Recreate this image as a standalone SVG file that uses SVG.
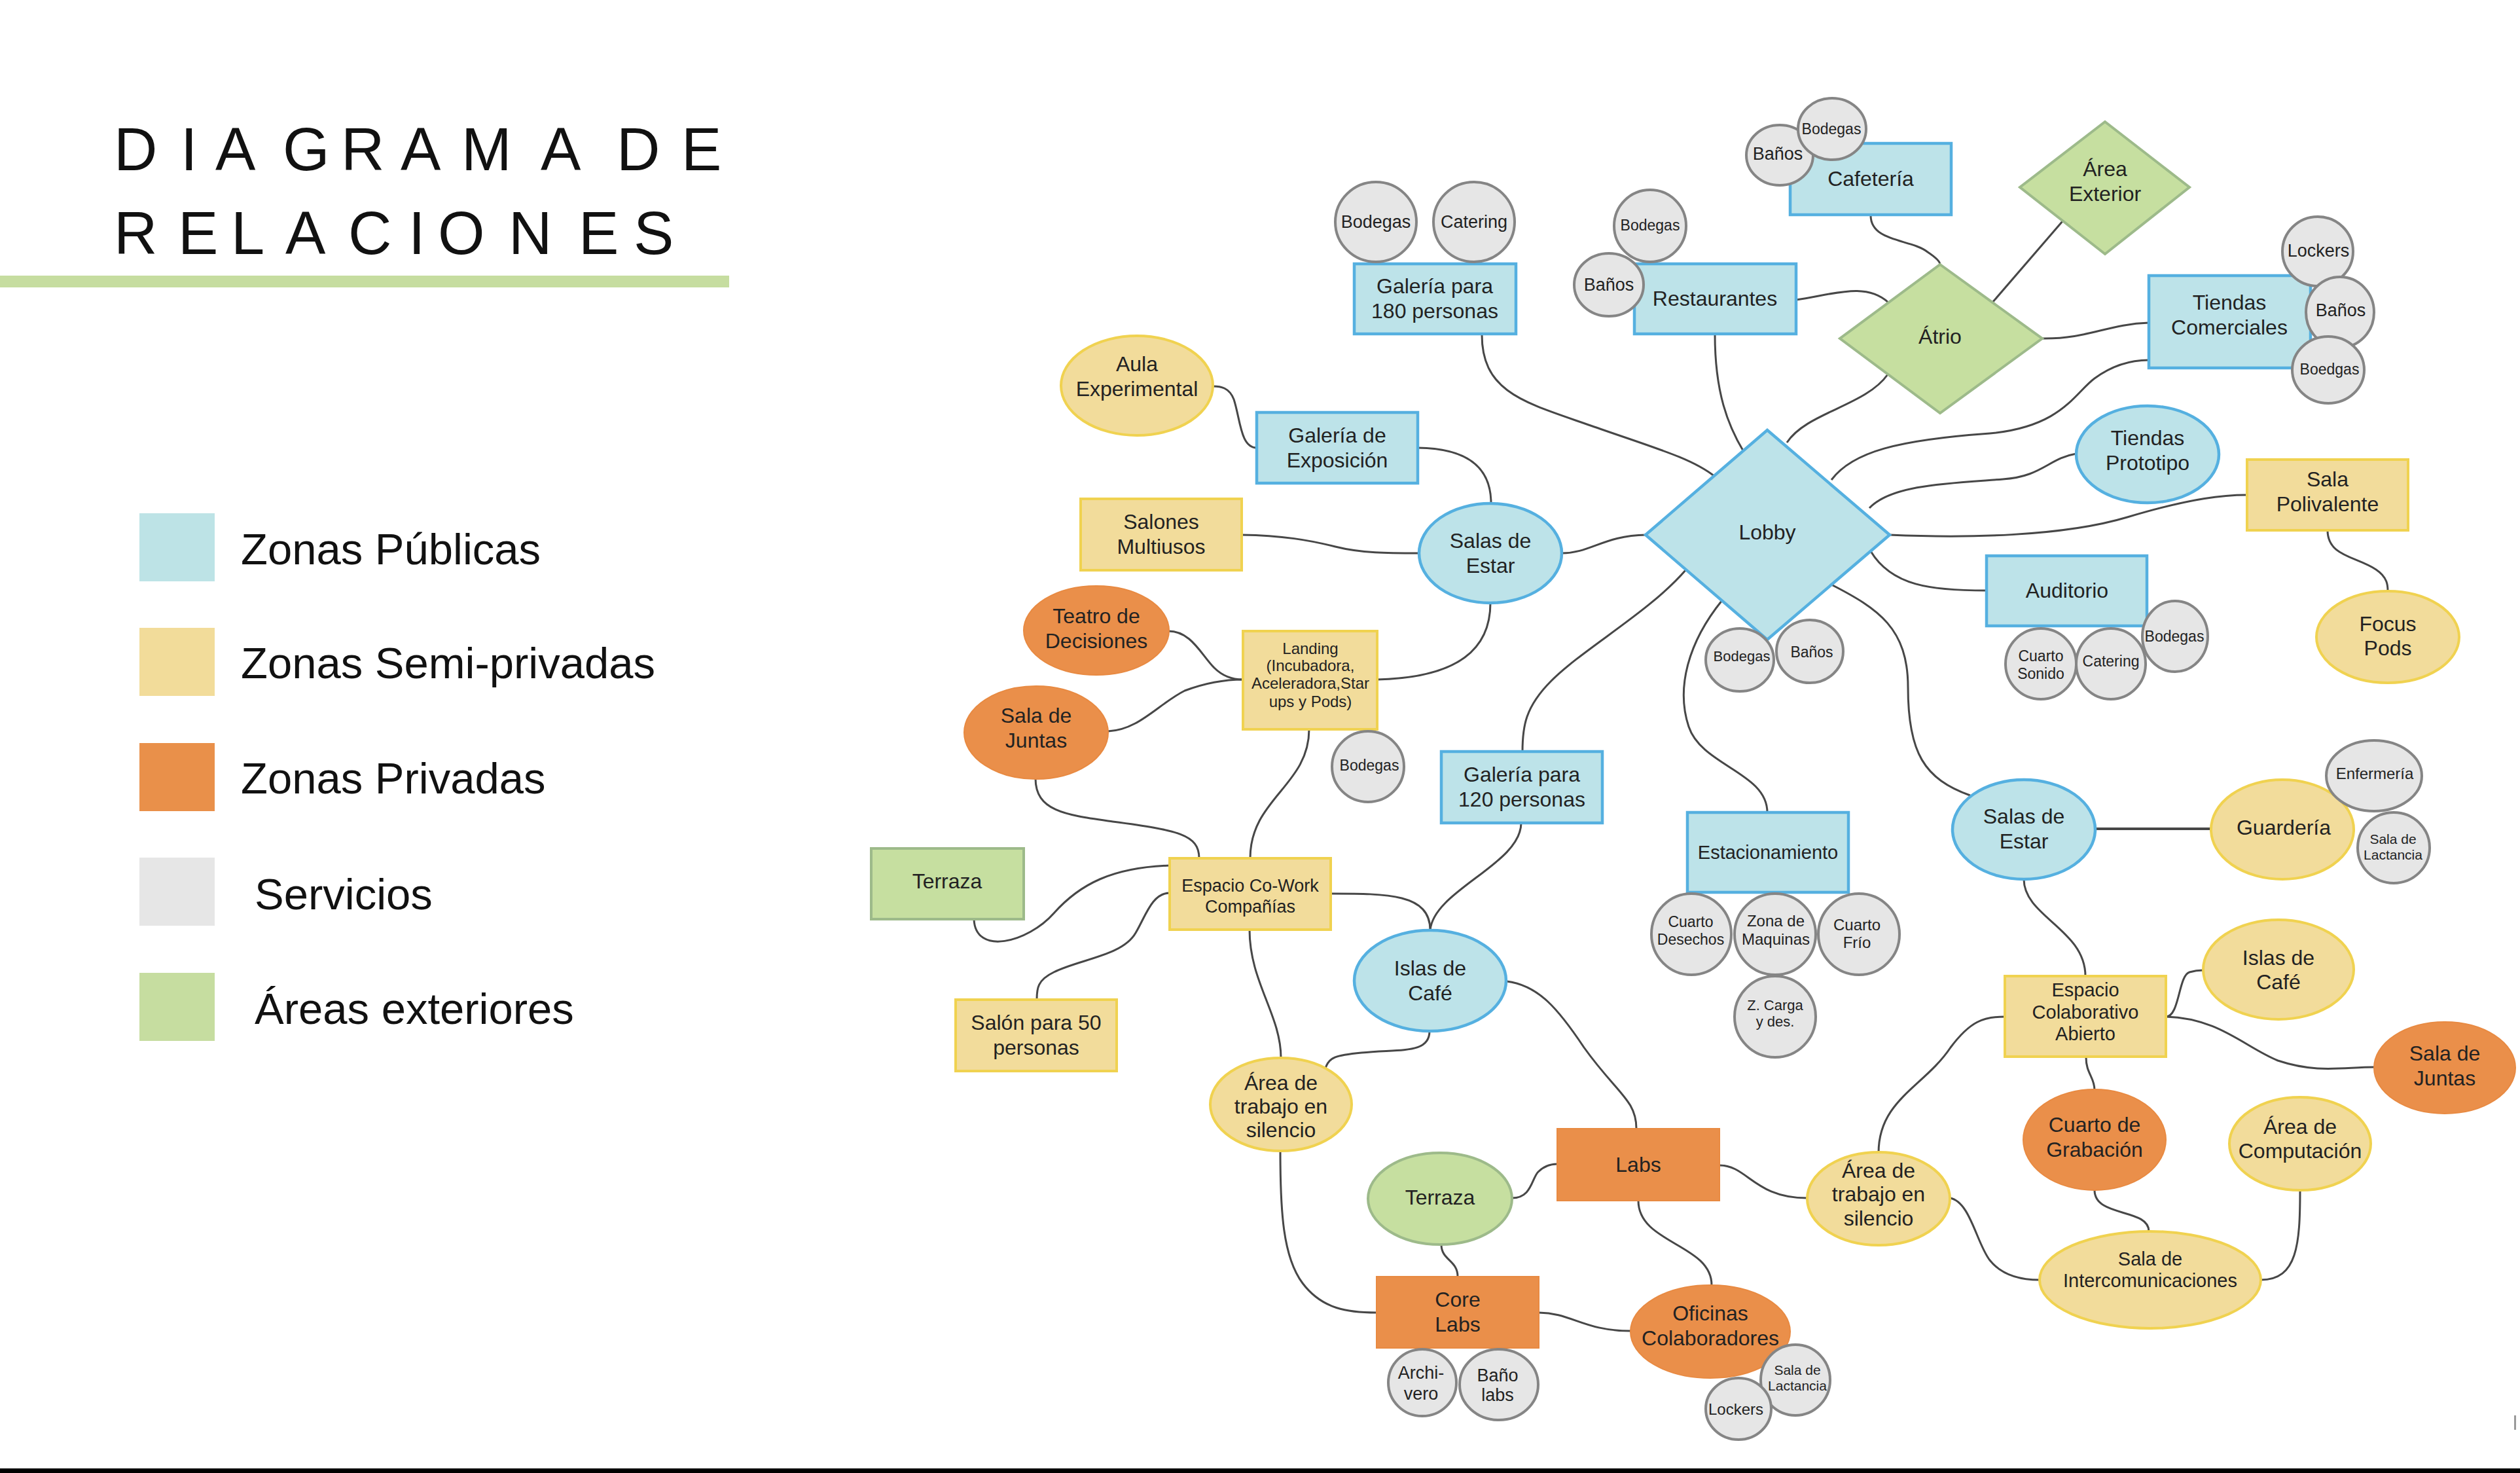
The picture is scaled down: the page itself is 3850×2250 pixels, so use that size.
<svg xmlns="http://www.w3.org/2000/svg" width="3850" height="2250" viewBox="0 0 3850 2250">
<style>
text{font-family:"Liberation Sans",Arial,sans-serif;fill:#222;text-anchor:middle}
.t32{font-size:32px}.t29{font-size:29px}.t27{font-size:27px}.t24{font-size:24px}.t23{font-size:23px}.t22{font-size:22px}.t21{font-size:21px}
.pub{fill:#BDE3E9;stroke:#55B0E0;stroke-width:4.5}
.semi{fill:#F2DC9B;stroke:#F0D250;stroke-width:4}
.priv{fill:#EA8F4A;stroke:#E88A42;stroke-width:2}
.serv{fill:#E6E6E6;stroke:#858585;stroke-width:4}
.ext{fill:#C6DFA0;stroke:#9DBA8A;stroke-width:4}
.conn path{fill:none;stroke:#474747;stroke-width:3}
.leg{font-size:67px;text-anchor:start;fill:#111}
.title{font-size:92px;text-anchor:start;fill:#111}
</style>
<rect width="3850" height="2250" fill="#fff"/>
<g id="title">
<text class="title" x="174 276 329 432 521 612 705 826 900 942 1041" y="260">DIAGRAMA DE</text>
<text class="title" x="174 272 353 436 532 624 669 777 884 968" y="388">RELACIONES</text>
<rect x="0" y="421" width="1114" height="18" fill="#C6DDA0"/>
</g>
<g id="legend">
<rect x="213" y="784" width="115" height="104" fill="#BDE3E6"/>
<text class="leg" x="368" y="862">Zonas Públicas</text>
<rect x="213" y="959" width="115" height="104" fill="#F2DC9A"/>
<text class="leg" x="368" y="1036">Zonas Semi-privadas</text>
<rect x="213" y="1135" width="115" height="104" fill="#E9904A"/>
<text class="leg" x="368" y="1212">Zonas Privadas</text>
<rect x="213" y="1310" width="115" height="104" fill="#E6E6E6"/>
<text class="leg" x="389" y="1389">Servicios</text>
<rect x="213" y="1486" width="115" height="104" fill="#C6DDA0"/>
<text class="leg" x="389" y="1564">Áreas exteriores</text>
</g>
<g id="connectors" class="conn">
<path d="M2264,511 C2264,600 2330,615 2430,650 C2530,685 2585,700 2620,728"/>
<path d="M2620,511 C2620,600 2640,650 2664,690"/>
<path d="M2744,458 C2800,450 2850,430 2885,462"/>
<path d="M2858,329 C2858,370 2920,365 2945,385 C2960,395 2964,400 2964,404"/>
<path d="M3044,462 L3151,338"/>
<path d="M3120,517 C3190,518 3220,495 3283,493"/>
<path d="M2730,676 C2760,630 2850,620 2884,572"/>
<path d="M2798,733 C2830,690 2900,672 3040,662 C3150,652 3170,600 3200,578 C3230,556 3260,550 3283,550"/>
<path d="M2856,776 C2890,740 2980,738 3060,732 C3120,728 3130,700 3172,693"/>
<path d="M2887,817 C3000,822 3150,820 3250,790 C3350,760 3400,756 3433,756"/>
<path d="M3556,810 C3556,850 3600,850 3630,870 C3648,882 3648,895 3648,903"/>
<path d="M2858,842 C2890,895 2950,902 3035,902"/>
<path d="M2798,893 C2870,930 2915,960 2915,1050 C2915,1150 2940,1190 3010,1215"/>
<path d="M2631,917 C2580,980 2560,1050 2580,1110 C2600,1170 2700,1180 2700,1241"/>
<path d="M2576,870 C2520,935 2420,990 2370,1040 C2330,1080 2326,1110 2326,1148"/>
<path d="M2386,845 C2430,845 2450,818 2515,817"/>
<path d="M2278,769 C2278,720 2250,685 2166,684"/>
<path d="M1920,684 C1895,684 1895,640 1885,610 C1878,592 1865,590 1853,590"/>
<path d="M1897,817 C1960,818 2000,825 2040,835 C2080,845 2120,845 2168,845"/>
<path d="M2277,921 C2277,990 2230,1035 2104,1038"/>
<path d="M1785,964 C1820,964 1835,1000 1855,1020 C1870,1035 1885,1038 1899,1038"/>
<path d="M1693,1117 C1740,1115 1770,1075 1810,1055 C1850,1040 1880,1038 1899,1038"/>
<path d="M1582,1189 C1582,1240 1630,1245 1700,1255 C1800,1268 1832,1275 1832,1311"/>
<path d="M2000,1114 C2000,1200 1910,1220 1910,1311"/>
<path d="M1787,1322 C1700,1325 1650,1350 1610,1395 C1570,1440 1490,1460 1488,1404"/>
<path d="M1787,1364 C1760,1364 1750,1400 1735,1425 C1715,1460 1650,1465 1610,1485 C1585,1497 1584,1510 1584,1527"/>
<path d="M2033,1365 C2120,1365 2185,1365 2185,1421"/>
<path d="M2324,1257 C2324,1320 2190,1360 2185,1421"/>
<path d="M1909,1420 C1909,1500 1957,1550 1957,1616"/>
<path d="M2184,1575 C2184,1610 2140,1602 2080,1608 C2040,1612 2030,1615 2025,1632"/>
<path d="M2302,1499 C2350,1505 2380,1540 2420,1600 C2470,1670 2500,1680 2500,1724"/>
<path d="M1956,1758 C1956,1850 1960,1920 1990,1960 C2020,2000 2060,2005 2103,2005"/>
<path d="M2310,1830 C2340,1830 2340,1800 2350,1790 C2360,1780 2370,1778 2379,1778"/>
<path d="M2202,1901 C2202,1925 2227,1925 2227,1950"/>
<path d="M2503,1834 C2503,1900 2615,1900 2615,1963"/>
<path d="M2351,2005 C2400,2005 2420,2033 2491,2033"/>
<path d="M2627,1780 C2670,1780 2680,1830 2761,1830"/>
<path d="M2870,1761 C2870,1680 2940,1660 2980,1600 C3010,1560 3030,1553 3063,1553"/>
<path d="M2979,1830 C3010,1835 3020,1900 3040,1925 C3060,1950 3090,1955 3116,1955"/>
<path d="M3187,1615 C3187,1640 3200,1645 3200,1665"/>
<path d="M3200,1818 C3200,1860 3283,1845 3283,1881"/>
<path d="M3514,1818 C3514,1900 3510,1955 3454,1955"/>
<path d="M3309,1553 C3330,1553 3328,1490 3345,1485 C3355,1482 3360,1482 3366,1482"/>
<path d="M3309,1553 C3390,1555 3430,1600 3480,1620 C3540,1640 3580,1630 3627,1630"/>
<path d="M3092,1343 C3092,1400 3186,1420 3186,1491"/>
<path d="M3201,1266 L3378,1266" style="stroke-width:4"/>
</g>
<g id="nodes">
<g id="lobby"><polygon class="pub" points="2700,657 2887,817 2700,977 2514,817"/><text class="t32" x="2700" y="824">Lobby</text></g>
<g id="galeria180"><rect class="pub" x="2069" y="403" width="247" height="107"/><text class="t32" x="2192" y="448">Galería para</text><text class="t32" x="2192" y="486">180 personas</text></g>
<g id="bodegas180"><ellipse class="serv" cx="2102" cy="339" rx="62" ry="61"/><text class="t27" x="2102" y="348">Bodegas</text></g>
<g id="catering180"><ellipse class="serv" cx="2252" cy="339" rx="62" ry="61"/><text class="t27" x="2252" y="348">Catering</text></g>
<g id="galeriaExpo"><rect class="pub" x="1920" y="630" width="246" height="108"/><text class="t32" x="2043" y="676">Galería de</text><text class="t32" x="2043" y="714">Exposición</text></g>
<g id="restaurantes"><rect class="pub" x="2497" y="403" width="247" height="107"/><text class="t32" x="2620" y="467">Restaurantes</text></g>
<g id="bodegasRest"><ellipse class="serv" cx="2521" cy="345" rx="55" ry="55"/><text class="t23" x="2521" y="352">Bodegas</text></g>
<g id="banosRest"><ellipse class="serv" cx="2458" cy="435" rx="53" ry="48"/><text class="t27" x="2458" y="444">Baños</text></g>
<g id="cafeteria"><rect class="pub" x="2735" y="219" width="246" height="109"/><text class="t32" x="2858" y="284">Cafetería</text></g>
<g id="banosCaf"><ellipse class="serv" cx="2719" cy="237" rx="51" ry="46"/><text class="t27" x="2716" y="244">Baños</text></g>
<g id="bodegasCaf"><ellipse class="serv" cx="2799" cy="197" rx="52" ry="47"/><text class="t23" x="2798" y="205">Bodegas</text></g>
<g id="atrio"><polygon class="ext" points="2964,404 3120,517 2964,631 2811,517"/><text class="t32" x="2964" y="525">Átrio</text></g>
<g id="areaExterior"><polygon class="ext" points="3216,186 3345,286 3216,388 3086,286"/><text class="t32" x="3216" y="269">Área</text><text class="t32" x="3216" y="307">Exterior</text></g>
<g id="tiendasComerciales"><rect class="pub" x="3283" y="421" width="247" height="141"/><text class="t32" x="3406" y="473">Tiendas</text><text class="t32" x="3406" y="511">Comerciales</text></g>
<g id="lockersT"><ellipse class="serv" cx="3541" cy="384" rx="54" ry="53"/><text class="t27" x="3542" y="392">Lockers</text></g>
<g id="banosT"><ellipse class="serv" cx="3575" cy="477" rx="52" ry="54"/><text class="t27" x="3576" y="483">Baños</text></g>
<g id="boedgasT"><ellipse class="serv" cx="3557" cy="565" rx="55" ry="51"/><text class="t23" x="3559" y="572">Boedgas</text></g>
<g id="tiendasPrototipo"><ellipse class="pub" cx="3281" cy="694" rx="109" ry="74"/><text class="t32" x="3281" y="680">Tiendas</text><text class="t32" x="3281" y="718">Prototipo</text></g>
<g id="salaPolivalente"><rect class="semi" x="3433" y="702" width="246" height="108"/><text class="t32" x="3556" y="743">Sala</text><text class="t32" x="3556" y="781">Polivalente</text></g>
<g id="focusPods"><ellipse class="semi" cx="3648" cy="973" rx="109" ry="70"/><text class="t32" x="3648" y="964">Focus</text><text class="t32" x="3648" y="1001">Pods</text></g>
<g id="auditorio"><rect class="pub" x="3035" y="849" width="245" height="107"/><text class="t32" x="3158" y="913">Auditorio</text></g>
<g id="cuartoSonido"><ellipse class="serv" cx="3118" cy="1014" rx="54" ry="54"/><text class="t23" x="3118" y="1010">Cuarto</text><text class="t23" x="3118" y="1037">Sonido</text></g>
<g id="bodegasAud"><ellipse class="serv" cx="3323" cy="972" rx="50" ry="54"/><text class="t23" x="3322" y="980">Bodegas</text></g>
<g id="cateringAud"><ellipse class="serv" cx="3225" cy="1014" rx="53" ry="54"/><text class="t23" x="3225" y="1018">Catering</text></g>
<g id="bodegasLobby"><ellipse class="serv" cx="2658" cy="1008" rx="52" ry="48"/><text class="t22" x="2661" y="1010">Bodegas</text></g>
<g id="banosLobby"><ellipse class="serv" cx="2765" cy="995" rx="51" ry="48"/><text class="t23" x="2768" y="1004">Baños</text></g>
<g id="aulaExperimental"><ellipse class="semi" cx="1737" cy="589" rx="116" ry="76"/><text class="t32" x="1737" y="567">Aula</text><text class="t32" x="1737" y="605">Experimental</text></g>
<g id="salonesMultiusos"><rect class="semi" x="1651" y="762" width="246" height="109"/><text class="t32" x="1774" y="808">Salones</text><text class="t32" x="1774" y="846">Multiusos</text></g>
<g id="salasEstarL"><ellipse class="pub" cx="2277" cy="845" rx="109" ry="76"/><text class="t32" x="2277" y="837">Salas de</text><text class="t32" x="2277" y="875">Estar</text></g>
<g id="teatroDecisiones"><ellipse class="priv" cx="1675" cy="963" rx="111" ry="68"/><text class="t32" x="1675" y="952">Teatro de</text><text class="t32" x="1675" y="990">Decisiones</text></g>
<g id="landing"><rect class="semi" x="1899" y="964" width="205" height="150"/><text class="t24" x="2002" y="999">Landing</text><text class="t24" x="2002" y="1025">(Incubadora,</text><text class="t24" x="2002" y="1052">Aceleradora,Star</text><text class="t24" x="2002" y="1080">ups y Pods)</text></g>
<g id="bodegasLanding"><ellipse class="serv" cx="2090" cy="1171" rx="55" ry="54"/><text class="t23" x="2092" y="1177">Bodegas</text></g>
<g id="salaJuntasL"><ellipse class="priv" cx="1583" cy="1119" rx="110" ry="71"/><text class="t32" x="1583" y="1104">Sala de</text><text class="t32" x="1583" y="1142">Juntas</text></g>
<g id="galeria120"><rect class="pub" x="2202" y="1148" width="246" height="109"/><text class="t32" x="2325" y="1194">Galería para</text><text class="t32" x="2325" y="1232">120 personas</text></g>
<g id="terrazaRect"><rect class="ext" x="1331" y="1296" width="233" height="108"/><text class="t32" x="1447" y="1357">Terraza</text></g>
<g id="coWork"><rect class="semi" x="1787" y="1311" width="246" height="109"/><text class="t27" x="1910" y="1362">Espacio Co-Work</text><text class="t27" x="1910" y="1394">Compañías</text></g>
<g id="salon50"><rect class="semi" x="1460" y="1527" width="246" height="109"/><text class="t32" x="1583" y="1573">Salón para 50</text><text class="t32" x="1583" y="1611">personas</text></g>
<g id="islasCafeB"><ellipse class="pub" cx="2185" cy="1498" rx="116" ry="77"/><text class="t32" x="2185" y="1490">Islas de</text><text class="t32" x="2185" y="1528">Café</text></g>
<g id="areaTrabajoL"><ellipse class="semi" cx="1957" cy="1687" rx="108" ry="71"/><text class="t32" x="1957" y="1665">Área de</text><text class="t32" x="1957" y="1701">trabajo en</text><text class="t32" x="1957" y="1737">silencio</text></g>
<g id="labs"><rect class="priv" x="2379" y="1724" width="248" height="110"/><text class="t32" x="2503" y="1790">Labs</text></g>
<g id="terrazaCirc"><ellipse class="ext" cx="2200" cy="1831" rx="110" ry="70"/><text class="t32" x="2200" y="1840">Terraza</text></g>
<g id="coreLabs"><rect class="priv" x="2103" y="1950" width="248" height="109"/><text class="t32" x="2227" y="1996">Core</text><text class="t32" x="2227" y="2034">Labs</text></g>
<g id="archivero"><ellipse class="serv" cx="2173" cy="2112" rx="52" ry="51"/><text class="t27" x="2171" y="2106">Archi-</text><text class="t27" x="2171" y="2138">vero</text></g>
<g id="banoLabs"><ellipse class="serv" cx="2290" cy="2115" rx="60" ry="54"/><text class="t27" x="2288" y="2110">Baño</text><text class="t27" x="2288" y="2140">labs</text></g>
<g id="oficinas"><ellipse class="priv" cx="2613" cy="2034" rx="122" ry="71"/><text class="t32" x="2613" y="2017">Oficinas</text><text class="t32" x="2613" y="2055">Colaboradores</text></g>
<g id="lactanciaB"><ellipse class="serv" cx="2743" cy="2108" rx="53" ry="54"/><text class="t21" x="2746" y="2100">Sala de</text><text class="t21" x="2746" y="2124">Lactancia</text></g>
<g id="lockersB"><ellipse class="serv" cx="2656" cy="2152" rx="50" ry="47"/><text class="t24" x="2652" y="2161">Lockers</text></g>
<g id="estacionamiento"><rect class="pub" x="2578" y="1241" width="246" height="122"/><text class="t29" x="2701" y="1312">Estacionamiento</text></g>
<g id="cuartoDesechos"><ellipse class="serv" cx="2584" cy="1427" rx="61" ry="62"/><text class="t23" x="2583" y="1416">Cuarto</text><text class="t23" x="2583" y="1443">Desechos</text></g>
<g id="zonaMaquinas"><ellipse class="serv" cx="2712" cy="1427" rx="62" ry="62"/><text class="t24" x="2713" y="1415">Zona de</text><text class="t24" x="2713" y="1443">Maquinas</text></g>
<g id="cuartoFrio"><ellipse class="serv" cx="2840" cy="1427" rx="62" ry="62"/><text class="t24" x="2837" y="1421">Cuarto</text><text class="t24" x="2837" y="1448">Frío</text></g>
<g id="zonaCarga"><ellipse class="serv" cx="2712" cy="1553" rx="62" ry="62"/><text class="t22" x="2712" y="1543">Z. Carga</text><text class="t22" x="2712" y="1568">y des.</text></g>
<g id="salasEstarR"><ellipse class="pub" cx="3092" cy="1267" rx="109" ry="76"/><text class="t32" x="3092" y="1258">Salas de</text><text class="t32" x="3092" y="1296">Estar</text></g>
<g id="guarderia"><ellipse class="semi" cx="3487" cy="1267" rx="109" ry="76"/><text class="t32" x="3489" y="1275">Guardería</text></g>
<g id="enfermeria"><ellipse class="serv" cx="3627" cy="1185" rx="73" ry="54"/><text class="t24" x="3628" y="1190">Enfermería</text></g>
<g id="lactanciaR"><ellipse class="serv" cx="3657" cy="1295" rx="55" ry="54"/><text class="t21" x="3656" y="1289">Sala de</text><text class="t21" x="3656" y="1313">Lactancia</text></g>
<g id="islasCafeY"><ellipse class="semi" cx="3481" cy="1481" rx="115" ry="76"/><text class="t32" x="3481" y="1474">Islas de</text><text class="t32" x="3481" y="1511">Café</text></g>
<g id="espacioColab"><rect class="semi" x="3063" y="1491" width="246" height="123"/><text class="t29" x="3186" y="1522">Espacio</text><text class="t29" x="3186" y="1556">Colaborativo</text><text class="t29" x="3186" y="1589">Abierto</text></g>
<g id="salaJuntasR"><ellipse class="priv" cx="3735" cy="1631" rx="108" ry="70"/><text class="t32" x="3735" y="1620">Sala de</text><text class="t32" x="3735" y="1658">Juntas</text></g>
<g id="cuartoGrabacion"><ellipse class="priv" cx="3200" cy="1741" rx="109" ry="77"/><text class="t32" x="3200" y="1729">Cuarto de</text><text class="t32" x="3200" y="1767">Grabación</text></g>
<g id="areaComputacion"><ellipse class="semi" cx="3514" cy="1747" rx="108" ry="71"/><text class="t32" x="3514" y="1732">Área de</text><text class="t32" x="3514" y="1769">Computación</text></g>
<g id="areaTrabajoR"><ellipse class="semi" cx="2870" cy="1831" rx="109" ry="71"/><text class="t32" x="2870" y="1799">Área de</text><text class="t32" x="2870" y="1835">trabajo en</text><text class="t32" x="2870" y="1872">silencio</text></g>
<g id="intercom"><ellipse class="semi" cx="3285" cy="1955" rx="169" ry="74"/><text class="t29" x="3285" y="1933">Sala de</text><text class="t29" x="3285" y="1966">Intercomunicaciones</text></g>
</g>
<rect x="3841" y="2162" width="3" height="22" fill="#9a9a9a"/>
<rect x="0" y="2243" width="3850" height="7" fill="#000"/>
</svg>
